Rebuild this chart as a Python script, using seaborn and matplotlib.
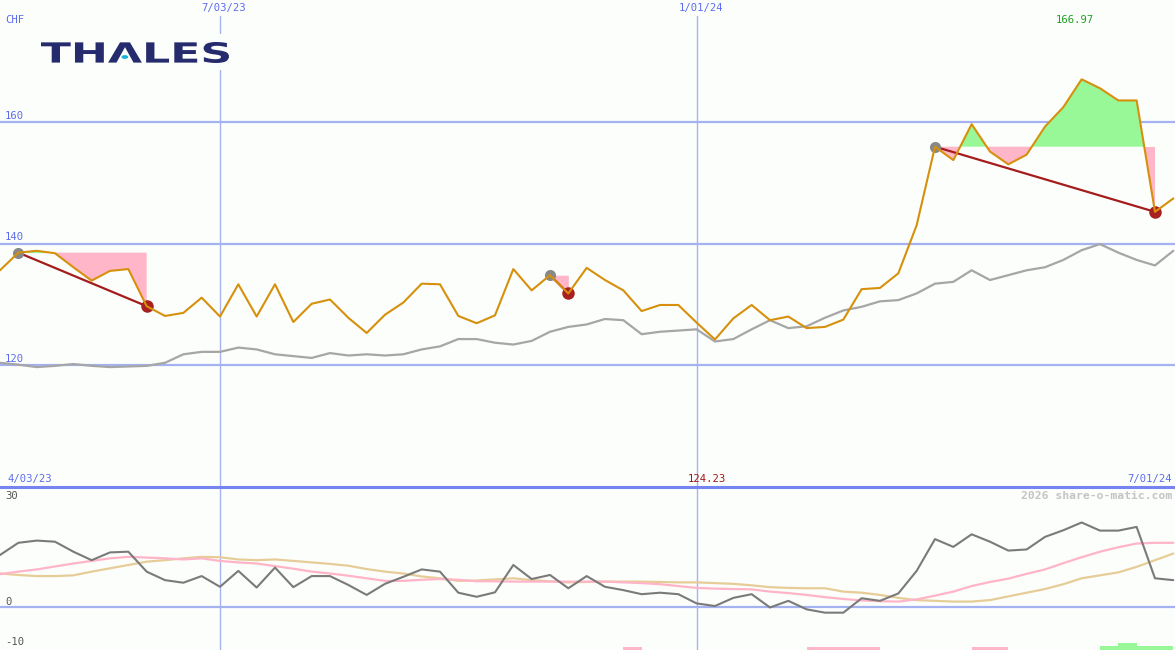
import matplotlib
matplotlib.use("Agg")
import matplotlib.pyplot as plt
import matplotlib.patches as mpatches
from matplotlib.font_manager import FontProperties
from matplotlib.textpath import TextPath
from matplotlib.transforms import Affine2D, IdentityTransform
import numpy as np
import pandas as pd
import seaborn as sns

# weekly closes (CHF), starting week of 10 Apr 2023
price = [135.6, 138.5, 138.8, 138.4, 136.1, 133.9, 135.5, 135.8, 129.7, 128.1,
         128.6, 131.1, 128.0, 133.3, 128.0, 133.3, 127.1, 130.1, 130.8, 127.8,
         125.3, 128.3, 130.3, 133.4, 133.3, 128.1, 126.9, 128.2, 135.8, 132.3,
         134.8, 131.8, 136.0, 134.0, 132.3, 128.9, 129.9, 129.9, 127.0, 124.23,
         127.7, 129.9, 127.4, 128.0, 126.1, 126.3, 127.5, 132.5, 132.7, 135.1,
         143.0, 155.9, 153.7, 159.6, 155.1, 153.0, 154.6, 159.2, 162.4, 166.97,
         165.5, 163.5, 163.5, 145.2, 147.4]

# market index rescaled to the share price
index_line = [120.4, 120.1, 119.7, 119.9, 120.2, 119.9, 119.7, 119.8, 119.9, 120.4,
              121.8, 122.2, 122.2, 122.9, 122.6, 121.8, 121.5, 121.2, 122.0, 121.6,
              121.8, 121.6, 121.8, 122.6, 123.1, 124.3, 124.3, 123.7, 123.4, 124.0,
              125.5, 126.3, 126.7, 127.6, 127.4, 125.1, 125.5, 125.7, 125.9, 123.9,
              124.3, 125.9, 127.4, 126.1, 126.4, 127.8, 129.0, 129.6, 130.5, 130.7,
              131.8, 133.4, 133.7, 135.6, 134.0, 134.8, 135.6, 136.1, 137.3, 138.9,
              139.9, 138.5, 137.3, 136.4, 138.8]

# lower panel: relative strength and two moving averages
rel_strength = [14.2, 17.5, 18.1, 17.8, 15.1, 12.8, 14.9, 15.1, 9.7, 7.4,
                6.7, 8.5, 5.6, 9.9, 5.4, 10.8, 5.5, 8.5, 8.5, 6.1,
                3.4, 6.4, 8.3, 10.3, 9.7, 4.0, 2.9, 4.1, 11.5, 7.7,
                8.8, 5.2, 8.5, 5.6, 4.7, 3.6, 4.0, 3.6, 1.1, 0.4,
                2.6, 3.6, 0.0, 1.8, -0.5, -1.4, -1.4, 2.5, 1.8, 3.8,
                9.9, 18.5, 16.4, 19.8, 17.8, 15.4, 15.7, 19.1, 20.9, 23.0,
                20.8, 20.8, 21.8, 7.9, 7.4]
avg_fast = [9.0, 9.7, 10.3, 11.1, 11.9, 12.6, 13.3, 13.7, 13.5, 13.3,
            13.0, 13.3, 12.6, 12.2, 11.9, 11.2, 10.5, 9.7, 9.2, 8.6,
            7.9, 7.2, 7.2, 7.5, 7.7, 7.5, 7.1, 7.1, 7.0, 7.0,
            7.0, 7.0, 7.0, 7.0, 6.8, 6.6, 6.3, 5.8, 5.3, 5.1,
            5.0, 4.9, 4.3, 3.9, 3.4, 2.8, 2.3, 1.9, 1.7, 1.6,
            2.2, 3.2, 4.3, 5.8, 6.9, 7.8, 9.1, 10.3, 12.0, 13.6,
            15.1, 16.3, 17.3, 17.5, 17.5]
avg_slow = [9.2, 8.8, 8.5, 8.5, 8.7, 9.7, 10.6, 11.5, 12.4, 12.8,
            13.3, 13.7, 13.6, 13.0, 12.8, 13.0, 12.6, 12.2, 11.8, 11.3,
            10.4, 9.7, 9.2, 8.4, 7.9, 7.2, 7.3, 7.6, 7.9, 7.4,
            7.1, 6.8, 6.9, 7.0, 7.0, 7.0, 6.9, 6.8, 6.8, 6.6,
            6.4, 6.0, 5.5, 5.3, 5.2, 5.2, 4.3, 4.0, 3.4, 2.6,
            2.0, 1.8, 1.6, 1.6, 2.0, 3.0, 4.0, 5.0, 6.3, 7.9,
            8.7, 9.5, 11.0, 12.8, 14.6]

# drawdown spans: (peak week, trough week)
drawdowns = [(1, 8), (30, 31), (51, 63)]

# signal bars along the bottom edge
sell_weeks = [34, 44, 45, 46, 47, 53, 54]
buy_weeks = [60, 61, 62, 63]
buy_heights = [1.0, 2.0, 1.0, 1.0]

marker_dates = ["2023-07-03", "2024-01-01"]
marker_labels = ["7/03/23", "1/01/24"]
start_label, end_label = "4/03/23", "7/01/24"
price_ticks = [120, 140, 160]

W, H = 1175, 650
BG = "#fcfefb"
GRID = "#a4b2f2"
LABEL_BLUE = "#5c6cf0"

dates = pd.date_range("2023-04-10", periods=len(price), freq="7D")
df = pd.DataFrame({"date": dates, "price": price, "index": index_line,
                   "rs": rel_strength, "fast": avg_fast, "slow": avg_slow})

sns.set_style("white")
plt.rcParams["font.family"] = ["DejaVu Sans Mono", "DejaVu Sans"]

fig = plt.figure(figsize=(W / 100, H / 100), dpi=100, facecolor=BG)
split = 487 / H
ax = fig.add_axes([0, 1 - split, 1, split])
ax2 = fig.add_axes([0, 0, 1, 1 - split])

x_end = dates[0] + pd.Timedelta(days=7 * W / 18.333)
for a in (ax, ax2):
    a.set_facecolor(BG)
    a.set_xlim(dates[0], x_end)
    a.set_xticks([])
    a.set_yticks([])
    for s in a.spines.values():
        s.set_visible(False)

# ---- top panel ----
ax.set_ylim(100, 180)
for t in price_ticks:
    ax.axhline(t, color=GRID, lw=1.6, zorder=1)
for d in marker_dates:
    ax.axvline(pd.Timestamp(d), ymax=1 - 16 / 487, color=GRID, lw=1.0, zorder=1)

for i0, i1 in drawdowns:
    seg = df.iloc[i0:i1 + 1]
    peak = price[i0]
    ax.fill_between(seg["date"], peak, seg["price"], where=seg["price"] <= peak,
                    interpolate=True, color="#ffb6c9", lw=0, zorder=2)
    ax.fill_between(seg["date"], peak, seg["price"], where=seg["price"] >= peak,
                    interpolate=True, color="#98f898", lw=0, zorder=2)
    ax.plot([dates[i0], dates[i1]], [price[i0], price[i1]], color="#a41c1c",
            lw=1.6, zorder=3)
    ax.plot(dates[i0], price[i0], "o", color="#888888", ms=8, mec="none", zorder=4)
    ax.plot(dates[i1], price[i1], "o", color="#a82020", ms=9, mec="none", zorder=4)

sns.lineplot(data=df, x="date", y="index", ax=ax, color="#a6a6a6", lw=1.6, zorder=3)
sns.lineplot(data=df, x="date", y="price", ax=ax, color="#d6900c", lw=1.5, zorder=5)
ax.set_xlabel("")
ax.set_ylabel("")

# ---- bottom panel ----
ax2.set_ylim(-11.5, 32.6)
ax2.spines["top"].set_visible(True)
ax2.spines["top"].set_color("#7584f0")
ax2.spines["top"].set_linewidth(2.2)
ax2.axhline(0, color=GRID, lw=1.6, zorder=1)
for d in marker_dates:
    ax2.axvline(pd.Timestamp(d), color=GRID, lw=1.0, zorder=1)

sns.lineplot(data=df, x="date", y="slow", ax=ax2, color="#e6cd98", lw=1.6, zorder=2)
sns.lineplot(data=df, x="date", y="fast", ax=ax2, color="#ffb4c8", lw=1.6, zorder=3)
sns.lineplot(data=df, x="date", y="rs", ax=ax2, color="#7a7a7a", lw=1.5, zorder=4)
ax2.bar(dates[sell_weeks], [0.9] * len(sell_weeks), width=7, align="edge",
        bottom=-11.5, color="#ffb6c9", lw=0, zorder=2)
ax2.bar(dates[buy_weeks], buy_heights, width=7, align="edge",
        bottom=-11.5, color="#98f898", lw=0, zorder=2)
ax2.set_xlabel("")
ax2.set_ylabel("")


def px(x, y):
    return x / W, 1 - y / H


# ---- texts ----
fs = 7.6
fig.text(*px(5, 20), "CHF", color=LABEL_BLUE, fontsize=fs, va="center")
for t in price_ticks:
    y = 122 + (160 - t) * 6.07
    fig.text(*px(5, y - 6), str(t), color=LABEL_BLUE, fontsize=fs, va="center")
for d, lab in zip(marker_dates, marker_labels):
    xi = (pd.Timestamp(d) - dates[0]).days / 7 * 18.333
    fig.text(*px(xi + 4, 8), lab, color=LABEL_BLUE, fontsize=fs, ha="center", va="center")

imax = int(np.argmax(price))
imin = int(np.argmin(price))
fig.text(*px(imax * 18.333 - 7, 20), f"{price[imax]:.2f}", color="#22a022",
         fontsize=fs, ha="center", va="center")
fig.text(*px(imin * 18.333 - 8, 479), f"{price[imin]:.2f}", color="#a01818",
         fontsize=fs, ha="center", va="center")
fig.text(*px(7, 479), start_label, color=LABEL_BLUE, fontsize=fs, va="center")
fig.text(*px(1172, 479), end_label, color=LABEL_BLUE, fontsize=fs, ha="right", va="center")
fig.text(*px(1172, 496), "2026 share-o-matic.com", color="#c4c4c4", fontsize=8.2,
         fontweight="bold", ha="right", va="center")
for lab, y in [("30", 496), ("0", 602), ("-10", 642)]:
    fig.text(*px(5, y), lab, color="#555555", fontsize=fs, va="center")

# ---- logo: stretched bold letters with a dot under the A ----
fig.patches.append(mpatches.Rectangle(px(34, 70), 202 / W, 36 / H, transform=fig.transFigure,
                                      facecolor=BG, edgecolor="none", zorder=6))
fp = FontProperties(family="DejaVu Sans", weight="bold")
word = "THΛLES"
tp = TextPath((0, 0), word, size=100, prop=fp)
bb = tp.get_extents()
lx0, lx1, ly_top, ly_bot = 41, 229, 42, 63
sx = (lx1 - lx0) / bb.width
sy = (ly_bot - ly_top) / bb.height
tr = Affine2D().translate(-bb.x0, -bb.y0).scale(sx, sy).translate(lx0, H - ly_bot)
fig.add_artist(mpatches.PathPatch(tr.transform_path(tp), transform=IdentityTransform(),
                                  facecolor="#252b6c", edgecolor="none", zorder=7))
a_left = TextPath((0, 0), word[:2], size=100, prop=fp).get_extents().x1
a_right = TextPath((0, 0), word[:3], size=100, prop=fp).get_extents().x1
dot_x = lx0 + ((a_left + a_right) / 2 - bb.x0) * sx + 2
fig.patches.append(mpatches.Circle(px(dot_x, 57), 3.4 / W, transform=fig.transFigure,
                                   facecolor="#16b0d8", edgecolor="none", zorder=8))

fig.savefig("out.png", dpi=100, facecolor=BG)
